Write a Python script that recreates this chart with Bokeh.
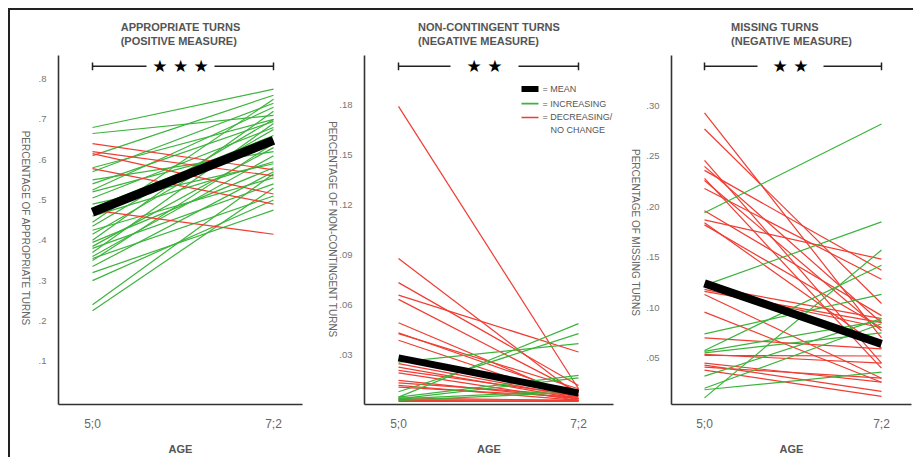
import math
from bokeh.plotting import figure
from bokeh.models import Range1d, FixedTicker, Label, LinearAxis
from bokeh.layouts import row
from bokeh.embed import file_html
from bokeh.resources import INLINE

# ---------------- data ----------------
age_labels = ["5;0", "7;2"]
age_pos = [0, 1]

# Panel 1: appropriate turns (positive measure)
app_ticks = [0.1, 0.2, 0.3, 0.4, 0.5, 0.6, 0.7, 0.8]
app_tick_labels = [".1", ".2", ".3", ".4", ".5", ".6", ".7", ".8"]
app_red_start = [0.64, 0.62, 0.615, 0.578, 0.475]
app_red_end = [0.575, 0.56, 0.515, 0.49, 0.415]
app_green_start = [0.68, 0.665, 0.61, 0.57, 0.55, 0.54, 0.525, 0.505, 0.49, 0.48,
                   0.445, 0.435, 0.425, 0.415, 0.40, 0.395, 0.385, 0.38, 0.37, 0.36,
                   0.355, 0.35, 0.335, 0.32, 0.30, 0.24, 0.225, 0.46, 0.52, 0.58]
app_green_end = [0.775, 0.71, 0.76, 0.74, 0.62, 0.695, 0.73, 0.68, 0.59, 0.66,
                 0.75, 0.70, 0.555, 0.675, 0.72, 0.58, 0.63, 0.54, 0.69, 0.61,
                 0.51, 0.64, 0.57, 0.475, 0.50, 0.565, 0.53, 0.595, 0.64, 0.70]
app_mean = [0.47, 0.648]

# Panel 2: non-contingent turns (negative measure)
nc_ticks = [0.03, 0.06, 0.09, 0.12, 0.15, 0.18]
nc_tick_labels = [".03", ".06", ".09", ".12", ".15", ".18"]
nc_red_start = [0.179, 0.088, 0.0735, 0.066, 0.0635, 0.0495, 0.0435, 0.043, 0.039, 0.025,
                0.023, 0.021, 0.0195, 0.015, 0.0135, 0.012, 0.011, 0.0045, 0.0035, 0.003, 0.0025]
nc_red_end = [0.010, 0.006, 0.012, 0.032, 0.008, 0.004, 0.006, 0.010, 0.003, 0.005,
              0.004, 0.006, 0.003, 0.004, 0.006, 0.003, 0.005, 0.003, 0.003, 0.0025, 0.0025]
nc_green_start = [0.005, 0.0082, 0.026, 0.005, 0.004, 0.003, 0.004]
nc_green_end = [0.049, 0.043, 0.037, 0.018, 0.0165, 0.008, 0.009]
nc_mean = [0.0285, 0.0075]

# Panel 3: missing turns (negative measure)
ms_ticks = [0.05, 0.10, 0.15, 0.20, 0.25, 0.30]
ms_tick_labels = [".05", ".10", ".15", ".20", ".25", ".30"]
ms_red_start = [0.293, 0.277, 0.246, 0.24, 0.236, 0.228, 0.226, 0.218, 0.196, 0.187,
                0.184, 0.182, 0.121, 0.118, 0.116, 0.113, 0.0955, 0.070, 0.0535, 0.0525,
                0.045, 0.043, 0.041, 0.038]
ms_red_end = [0.070, 0.104, 0.045, 0.085, 0.137, 0.040, 0.077, 0.128, 0.092, 0.148,
              0.060, 0.080, 0.089, 0.080, 0.085, 0.030, 0.026, 0.059, 0.045, 0.052,
              0.026, 0.017, 0.030, 0.012]
ms_green_start = [0.194, 0.122, 0.074, 0.0575, 0.0565, 0.032, 0.020, 0.0185, 0.0105, 0.055]
ms_green_end = [0.282, 0.185, 0.113, 0.142, 0.087, 0.089, 0.084, 0.036, 0.157, 0.075]
ms_mean = [0.124, 0.064]

# ---------------- style ----------------
FONT = "Liberation Sans"
GREEN = "#3cb43c"
RED = "#f03c32"
AXIS = "#333333"
FIG_TOP = 10          # page px of figure top (8px margin + 2px frame)
FIG_H = 447
FRAME_TOP, FRAME_BOTTOM = 55, 410


def build(g, title, ylabel, ticks, tick_labels, red_s, red_e, green_s, green_e,
          mean, mean_w, stars, red_first=True):
    span = g["x1"] - g["x0"]
    xr = Range1d((g["fl"] - g["x0"]) / span, (g["fr"] - g["x0"]) / span)
    yr = Range1d((g["zero"] - FRAME_BOTTOM) / g["scale"], (g["zero"] - FRAME_TOP) / g["scale"])
    p = figure(width=g["w"], height=FIG_H, x_range=xr, y_range=yr,
               output_backend="svg", toolbar_location=None,
               min_border_left=g["fl"] - g["fx"], min_border_right=g["fx"] + g["w"] - g["fr"],
               min_border_top=FRAME_TOP - FIG_TOP, min_border_bottom=FIG_TOP + FIG_H - FRAME_BOTTOM)
    p.outline_line_color = None
    p.grid.visible = False

    X = lambda px: (px - g["x0"]) / span
    Y = lambda py: (g["zero"] - py) / g["scale"]

    # title
    p.title.text = title
    p.title.align = "center"
    p.title.vertical_align = "top"
    p.title.text_font = FONT
    p.title.text_font_size = "11px"
    p.title.text_font_style = "bold"
    p.title.text_color = "#555555"
    p.title.text_line_height = 1.15
    p.title.standoff = 13

    for ax in (p.xaxis[0], p.yaxis[0]):
        ax.axis_line_color = AXIS
        ax.axis_line_width = 1.6
        ax.major_tick_line_color = None
        ax.minor_tick_line_color = None
        ax.major_tick_out = 0
        ax.major_tick_in = 0
        ax.minor_tick_out = 0
        ax.minor_tick_in = 0
        ax.major_label_text_font = FONT
        ax.axis_label_text_font = FONT
    xa = p.xaxis[0]
    xa.ticker = FixedTicker(ticks=age_pos)
    xa.major_label_overrides = {t: l for t, l in zip(age_pos, age_labels)}
    xa.major_label_text_font_size = "12px"
    xa.major_label_text_color = "#666666"
    xa.major_label_standoff = 12
    xa.axis_label = "AGE"
    xa.axis_label_text_font_size = "11px"
    xa.axis_label_text_font_style = "bold"
    xa.axis_label_text_color = "#555555"
    xa.axis_label_standoff = 9

    ya = p.yaxis[0]
    ya.ticker = FixedTicker(ticks=ticks)
    ya.major_label_overrides = {t: l for t, l in zip(ticks, tick_labels)}
    ya.major_label_text_font_size = "9.5px"
    ya.major_label_text_color = "#777777"
    ya.major_label_standoff = 12

    # second, label-only axis: the vertical axis title, reading top to bottom,
    # drawn as the single tick label of an invisible axis (text ends at the tick)
    lab_tick = Y(g["yle"])
    la = LinearAxis(ticker=FixedTicker(ticks=[lab_tick]),
                    major_label_overrides={lab_tick: ylabel})
    la.axis_line_color = None
    la.major_tick_line_color = None
    la.minor_tick_line_color = None
    la.major_tick_out = 0
    la.major_tick_in = 0
    la.minor_tick_out = 0
    la.minor_tick_in = 0
    la.major_label_standoff = g["yls"]
    la.major_label_text_font = FONT
    la.major_label_text_font_size = "10px"
    la.major_label_text_color = "#666666"
    la.major_label_orientation = -math.pi / 2
    p.add_layout(la, "left")

    xs_r = [age_pos for _ in red_s]
    ys_r = [[s, e] for s, e in zip(red_s, red_e)]
    xs_g = [age_pos for _ in green_s]
    ys_g = [[s, e] for s, e in zip(green_s, green_e)]
    if red_first:
        p.multi_line(xs_r, ys_r, line_color=RED, line_width=1.2)
        p.multi_line(xs_g, ys_g, line_color=GREEN, line_width=1.2)
    else:
        p.multi_line(xs_g, ys_g, line_color=GREEN, line_width=1.2)
        p.multi_line(xs_r, ys_r, line_color=RED, line_width=1.2)
    p.line(age_pos, mean, line_color="black", line_width=mean_w, line_cap="butt")

    # significance bracket
    yb = Y(66)
    cap = 4 / g["scale"]
    p.segment(x0=[0, X(g["gr"]), 0, 1], y0=[yb, yb, yb - cap, yb - cap],
              x1=[X(g["gl"]), 1, 0, 1], y1=[yb, yb, yb + cap, yb + cap],
              line_color="#222222", line_width=1.5)
    p.add_layout(Label(x=X(g["sc"]), y=Y(66), text=stars, text_font="DejaVu Sans",
                       text_font_size="17px", text_color="black",
                       text_align="center", text_baseline="middle"))
    return p, X, Y


g1 = dict(fx=10, w=300, fl=58, fr=302, x0=92, x1=273, zero=407, scale=410.0,
          gl=146, gr=214, sc=180, yls=10, yle=330)
g2 = dict(fx=310, w=305, fl=364, fr=613, x0=398, x1=578, zero=411, scale=1700.0,
          gl=450, gr=518, sc=484, yls=4, yle=342)
g3 = dict(fx=615, w=298, fl=671, fr=911, x0=704, x1=881, zero=414, scale=1026.0,
          gl=757, gr=823, sc=790, yls=8, yle=320)

p1, _, _ = build(g1, "APPROPRIATE TURNS\n(POSITIVE MEASURE)", "PERCENTAGE OF APPROPRIATE TURNS",
                 app_ticks, app_tick_labels, app_red_start, app_red_end,
                 app_green_start, app_green_end, app_mean, 9, "\u2605 \u2605 \u2605", red_first=False)
p2, X2, Y2 = build(g2, "NON-CONTINGENT TURNS\n(NEGATIVE MEASURE)", "PERCENTAGE OF NON-CONTINGENT TURNS",
                   nc_ticks, nc_tick_labels, nc_red_start, nc_red_end,
                   nc_green_start, nc_green_end, nc_mean, 7, "\u2605 \u2605")
p3, _, _ = build(g3, "MISSING TURNS\n(NEGATIVE MEASURE)", "PERCENTAGE OF MISSING TURNS",
                 ms_ticks, ms_tick_labels, ms_red_start, ms_red_end,
                 ms_green_start, ms_green_end, ms_mean, 8, "\u2605 \u2605")

# legend in panel 2
leg_labels = ["= MEAN", "= INCREASING", "= DECREASING/"]
leg_colors = ["black", GREEN, RED]
leg_widths = [6, 1.6, 1.6]
leg_rows = [89, 104, 118]
for lab, col, lw, ry in zip(leg_labels, leg_colors, leg_widths, leg_rows):
    p2.line([X2(521), X2(538)], [Y2(ry), Y2(ry)], line_color=col, line_width=lw, line_cap="butt")
    p2.add_layout(Label(x=X2(542), y=Y2(ry), text=lab, text_font=FONT, text_font_size="9px",
                        text_color="#555555", text_align="left", text_baseline="middle"))
p2.add_layout(Label(x=X2(550), y=Y2(131), text="NO CHANGE", text_font=FONT, text_font_size="9px",
                    text_color="#555555", text_align="left", text_baseline="middle"))

layout = row(p1, p2, p3, styles={"margin-top": "8px", "margin-left": "8px",
                                 "border-top": "2px solid #222222",
                                 "border-left": "2px solid #222222"})
open("out.html", "w").write(file_html(layout, INLINE))
